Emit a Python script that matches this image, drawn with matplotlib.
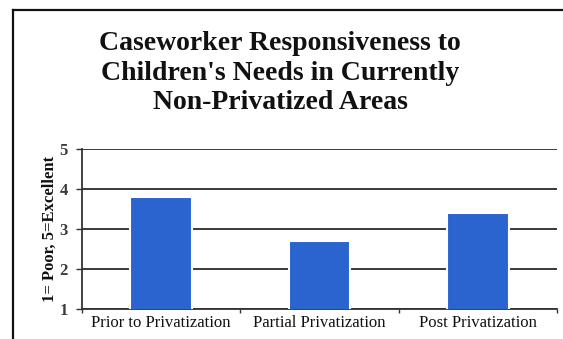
import matplotlib.pyplot as plt
from matplotlib.lines import Line2D

categories = ['Prior to Privatization', 'Partial Privatization', 'Post Privatization']
ratings = [3.8, 2.7, 3.4]
yticks = [1, 2, 3, 4, 5]
title = "Caseworker Responsiveness to\nChildren's Needs in Currently\nNon-Privatized Areas"
ylabel = '1= Poor, 5=Excellent'

W, H = 563, 339
fig = plt.figure(figsize=(W / 100, H / 100), dpi=100)
fig.patch.set_facecolor('white')

# outer frame (only top and left edges visible in the scan)
fig.add_artist(Line2D([13 / W, 1], [1 - 10 / H, 1 - 10 / H], color='#111111', lw=1.6))
fig.add_artist(Line2D([13 / W, 13 / W], [0, 1 - 10 / H], color='#111111', lw=1.6))

fig.text(280 / W, 1 - 73 / H, title, ha='center', va='center',
         fontsize=20, fontweight='bold', family='Liberation Serif',
         linespacing=1.22, color='#111111')

ax = fig.add_axes([82 / W, 30 / H, (557 - 82) / W, (309 - 149) / H])
x = range(len(categories))
ax.bar(x, ratings, width=0.39, bottom=0, color='#2b63cf', edgecolor='white',
       linewidth=1.5, zorder=3)

ax.set_ylim(1, 5)
ax.set_xlim(-0.5, 2.5)
ax.set_yticks(yticks)
ax.set_yticklabels([str(v) for v in yticks], fontsize=12, fontweight='bold',
                   family='Liberation Serif', color='#3a3a3a')
ax.set_xticks(list(x))
ax.set_xticklabels(categories, fontsize=12, family='Liberation Serif', color='#111111')
ax.set_xticks([-0.5, 0.5, 1.5, 2.5], minor=True)
ax.tick_params(axis='x', which='major', length=0, pad=4)
ax.tick_params(axis='x', which='minor', length=3, width=1, color='#333333')
ax.tick_params(axis='y', length=4, width=1, color='#333333', pad=6)

ax.grid(axis='y', color='#2a2a2a', lw=1.3, zorder=1)
for s in ['top', 'right']:
    ax.spines[s].set_visible(False)
for s in ['left', 'bottom']:
    ax.spines[s].set_color('#333333')
    ax.spines[s].set_linewidth(1.3)

fig.text(50 / W, 1 - 229 / H, ylabel, rotation=90, ha='center', va='center',
         fontsize=12, fontweight='bold', family='Liberation Serif', color='#111111')

fig.savefig('out.png', dpi=100)
